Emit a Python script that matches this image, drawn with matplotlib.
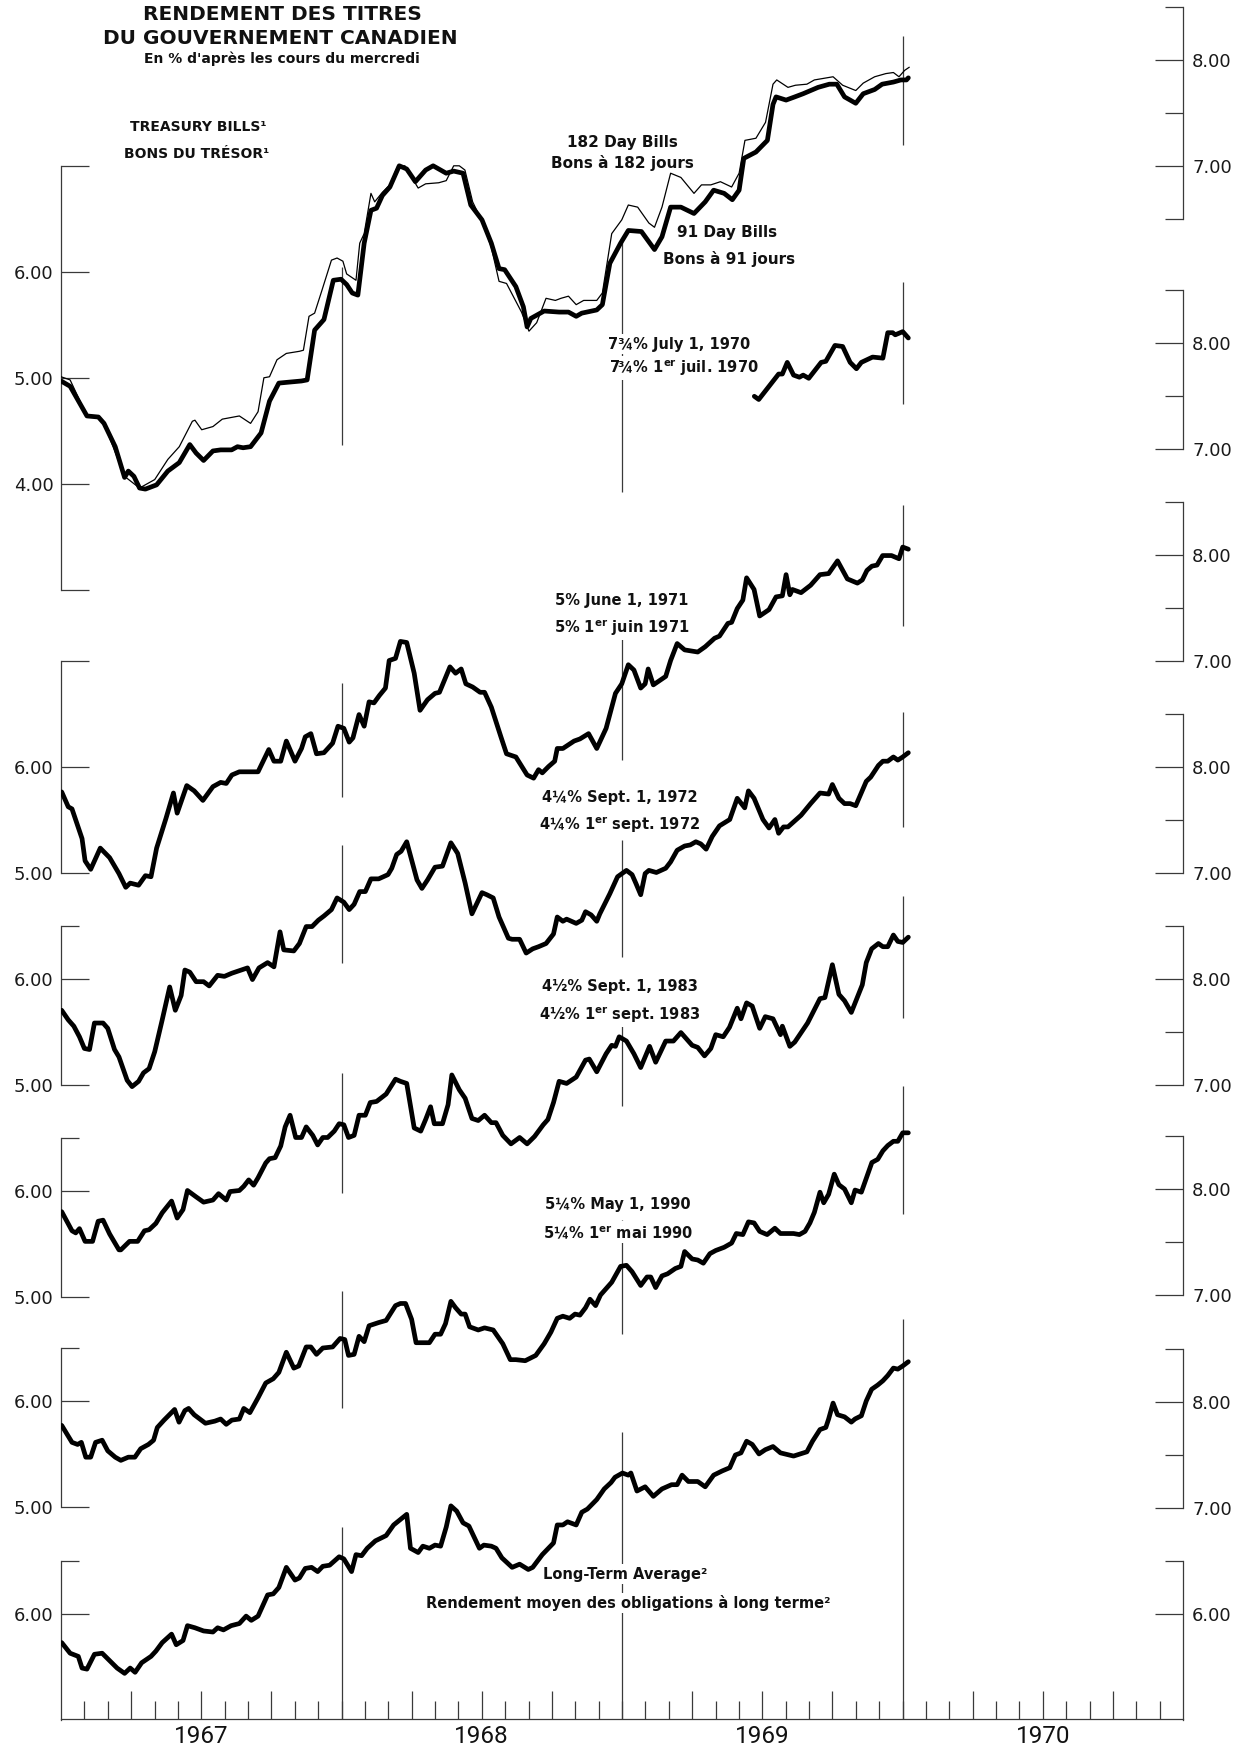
import matplotlib
matplotlib.use("Agg")
import matplotlib.pyplot as plt
from matplotlib.ticker import FixedLocator, FuncFormatter
import numpy as np

plt.rcParams["font.family"] = ["DejaVu Sans"]
plt.rcParams["mathtext.fontset"] = "dejavusans"

# weekly yields: (months since 1 Jan 1967, yield %)
bills_91 = [(0, 4.97), (0.39, 4.92), (1.11, 4.64), (1.6, 4.63), (1.84, 4.57), (2.32, 4.35), (2.72, 4.06),
            (2.88, 4.12), (3.12, 4.07), (3.36, 3.96), (3.61, 3.95), (4.09, 3.99), (4.57, 4.12), (5.06, 4.20),
            (5.51, 4.37), (5.78, 4.29), (6.1, 4.22), (6.5, 4.31), (6.83, 4.32), (7.3, 4.32), (7.55, 4.35),
            (7.79, 4.34), (8.11, 4.35), (8.56, 4.48), (8.92, 4.78), (9.32, 4.95), (9.8, 4.96), (10.29, 4.97),
            (10.53, 4.98), (10.85, 5.45), (11.25, 5.55), (11.65, 5.92), (11.98, 5.93), (12.22, 5.88),
            (12.46, 5.80), (12.7, 5.78), (12.97, 6.27), (13.26, 6.58), (13.5, 6.60), (13.75, 6.72),
            (14.07, 6.80), (14.47, 7.00), (14.79, 6.97), (15.16, 6.85), (15.6, 6.96), (15.92, 7.00),
            (16.24, 6.96), (16.48, 6.93), (16.8, 6.95), (17.2, 6.93), (17.53, 6.63), (18.01, 6.49),
            (18.41, 6.27), (18.74, 6.03), (18.98, 6.02), (19.46, 5.86), (19.78, 5.67), (19.94, 5.48),
            (20.1, 5.56), (20.67, 5.63), (21.31, 5.62), (21.71, 5.62), (22.04, 5.58), (22.28, 5.61),
            (22.92, 5.64), (23.16, 5.69), (23.48, 6.08), (23.94, 6.27), (24.27, 6.39), (24.83, 6.38),
            (25.39, 6.21), (25.71, 6.33), (26.08, 6.61), (26.52, 6.61), (27.08, 6.55), (27.56, 6.66),
            (27.92, 6.77), (28.37, 6.74), (28.72, 6.68), (29.01, 6.77), (29.21, 7.07), (29.73, 7.13),
            (30.22, 7.24), (30.46, 7.58), (30.59, 7.65), (31.02, 7.62), (31.39, 7.65), (31.75, 7.68),
            (32.39, 7.74), (32.87, 7.77), (33.19, 7.77), (33.52, 7.65), (34.0, 7.59), (34.32, 7.68),
            (34.81, 7.72), (35.13, 7.77), (35.61, 7.79), (35.93, 7.81), (36.17, 7.81), (36.25, 7.83)]

bills_182 = [(0, 5.01), (0.39, 4.98), (1.11, 4.64), (1.6, 4.63), (1.84, 4.57), (2.72, 4.07), (3.36, 3.96),
             (4.01, 4.04), (4.57, 4.23), (5.06, 4.35), (5.62, 4.59), (5.73, 4.60), (6.02, 4.51), (6.5, 4.54),
             (6.9, 4.61), (7.63, 4.64), (8.11, 4.57), (8.43, 4.68), (8.68, 5.00), (8.92, 5.01), (9.24, 5.17),
             (9.64, 5.23), (10.2, 5.25), (10.37, 5.26), (10.61, 5.58), (10.85, 5.61), (11.17, 5.83),
             (11.57, 6.11), (11.81, 6.13), (12.06, 6.10), (12.22, 5.98), (12.62, 5.92), (12.78, 6.27),
             (12.97, 6.36), (13.26, 6.74), (13.42, 6.66), (13.75, 6.75), (14.07, 6.82), (14.39, 6.99),
             (14.71, 7.00), (15.28, 6.79), (15.6, 6.83), (16.16, 6.84), (16.48, 6.86), (16.8, 7.00),
             (17.04, 7.00), (17.28, 6.96), (17.61, 6.66), (18.09, 6.44), (18.41, 6.23), (18.74, 5.91),
             (19.06, 5.89), (19.7, 5.62), (20.02, 5.44), (20.35, 5.52), (20.75, 5.75), (21.15, 5.73),
             (21.39, 5.75), (21.71, 5.77), (22.04, 5.69), (22.36, 5.73), (22.92, 5.73), (23.16, 5.80),
             (23.56, 6.36), (23.99, 6.49), (24.27, 6.63), (24.67, 6.61), (25.15, 6.46), (25.39, 6.42),
             (25.71, 6.61), (26.08, 6.93), (26.52, 6.89), (27.08, 6.74), (27.4, 6.82), (27.8, 6.82),
             (28.21, 6.85), (28.69, 6.80), (29.01, 6.93), (29.26, 7.24), (29.73, 7.26), (30.14, 7.41),
             (30.46, 7.77), (30.62, 7.81), (31.1, 7.74), (31.42, 7.76), (31.91, 7.77), (32.23, 7.81),
             (33.03, 7.84), (33.44, 7.76), (34.0, 7.71), (34.32, 7.78), (34.81, 7.84), (35.29, 7.87),
             (35.61, 7.88), (35.85, 7.84), (36.09, 7.90), (36.29, 7.93)]

bond_1970 = [(29.66, 7.50), (29.85, 7.47), (30.7, 7.71), (30.86, 7.71), (31.07, 7.82), (31.34, 7.70),
             (31.59, 7.68), (31.75, 7.70), (31.99, 7.67), (32.52, 7.82), (32.72, 7.83), (33.11, 7.98),
             (33.44, 7.97), (33.76, 7.82), (34.03, 7.76), (34.24, 7.82), (34.72, 7.87), (35.16, 7.86),
             (35.37, 8.10), (35.58, 8.10), (35.69, 8.08), (36.01, 8.11), (36.25, 8.05)]

bond_1971 = [(0.03, 5.76), (0.31, 5.62), (0.47, 5.60), (0.9, 5.32), (1.03, 5.11), (1.27, 5.03), (1.68, 5.23),
             (2.08, 5.14), (2.48, 4.99), (2.77, 4.86), (2.96, 4.90), (3.32, 4.88), (3.61, 4.97), (3.85, 4.96),
             (4.09, 5.23), (4.49, 5.51), (4.81, 5.75), (4.97, 5.56), (5.38, 5.82), (5.7, 5.77), (6.07, 5.68),
             (6.5, 5.81), (6.83, 5.85), (7.07, 5.84), (7.31, 5.92), (7.63, 5.95), (8.43, 5.95), (8.89, 6.16),
             (9.11, 6.05), (9.4, 6.05), (9.64, 6.24), (10.01, 6.05), (10.29, 6.17), (10.45, 6.28),
             (10.69, 6.31), (10.93, 6.12), (11.25, 6.13), (11.62, 6.22), (11.85, 6.38), (12.1, 6.36),
             (12.33, 6.23), (12.49, 6.27), (12.75, 6.49), (12.97, 6.38), (13.18, 6.61), (13.39, 6.60),
             (13.62, 6.67), (13.88, 6.74), (14.04, 7.00), (14.31, 7.02), (14.52, 7.18), (14.79, 7.17),
             (15.11, 6.88), (15.36, 6.53), (15.68, 6.63), (16.0, 6.69), (16.19, 6.70), (16.64, 6.94),
             (16.88, 6.88), (17.12, 6.92), (17.32, 6.78), (17.61, 6.75), (17.93, 6.70), (18.12, 6.70),
             (18.41, 6.56), (18.82, 6.28), (19.06, 6.12), (19.46, 6.09), (19.94, 5.92), (20.22, 5.89),
             (20.43, 5.97), (20.59, 5.94), (20.86, 6.00), (21.12, 6.05), (21.23, 6.17), (21.47, 6.17),
             (21.95, 6.24), (22.2, 6.26), (22.57, 6.31), (22.92, 6.17), (23.32, 6.36), (23.72, 6.69),
             (23.99, 6.78), (24.27, 6.96), (24.51, 6.91), (24.8, 6.74), (24.99, 6.78), (25.12, 6.92),
             (25.34, 6.77), (25.87, 6.85), (26.08, 7.00), (26.36, 7.16), (26.68, 7.10), (27.24, 7.08),
             (27.56, 7.13), (27.96, 7.21), (28.17, 7.23), (28.53, 7.35), (28.69, 7.36), (28.93, 7.49),
             (29.17, 7.57), (29.33, 7.78), (29.65, 7.67), (29.89, 7.42), (30.29, 7.48), (30.59, 7.60),
             (30.86, 7.61), (31.02, 7.81), (31.18, 7.62), (31.29, 7.67), (31.66, 7.64), (32.07, 7.71),
             (32.47, 7.81), (32.84, 7.82), (33.22, 7.94), (33.64, 7.77), (34.07, 7.73), (34.28, 7.76),
             (34.48, 7.85), (34.69, 7.89), (34.91, 7.90), (35.15, 7.99), (35.53, 7.99), (35.85, 7.96),
             (36.01, 8.07), (36.25, 8.05)]

bond_1972 = [(0.03, 5.70), (0.31, 5.61), (0.55, 5.55), (0.79, 5.45), (1.0, 5.34), (1.22, 5.33), (1.43, 5.58),
             (1.8, 5.58), (2.0, 5.53), (2.29, 5.33), (2.48, 5.26), (2.83, 5.04), (3.04, 4.98), (3.32, 5.03),
             (3.53, 5.11), (3.77, 5.15), (4.01, 5.31), (4.33, 5.61), (4.65, 5.92), (4.89, 5.70), (5.14, 5.84),
             (5.3, 6.08), (5.51, 6.06), (5.78, 5.97), (6.1, 5.97), (6.34, 5.93), (6.7, 6.03), (6.99, 6.02),
             (7.31, 6.05), (7.71, 6.08), (7.98, 6.10), (8.19, 5.99), (8.47, 6.10), (8.84, 6.15), (9.11, 6.11),
             (9.37, 6.44), (9.53, 6.27), (9.96, 6.26), (10.2, 6.33), (10.49, 6.49), (10.74, 6.49),
             (11.01, 6.55), (11.25, 6.59), (11.57, 6.65), (11.81, 6.76), (12.1, 6.72), (12.33, 6.65),
             (12.54, 6.70), (12.78, 6.82), (13.02, 6.82), (13.26, 6.94), (13.59, 6.94), (13.99, 6.98),
             (14.15, 7.04), (14.36, 7.17), (14.55, 7.20), (14.79, 7.29), (15.0, 7.12), (15.23, 6.93),
             (15.44, 6.85), (15.68, 6.93), (16.0, 7.05), (16.32, 7.06), (16.68, 7.28), (16.97, 7.18),
             (17.29, 6.90), (17.58, 6.61), (18.01, 6.81), (18.22, 6.79), (18.49, 6.76), (18.74, 6.58),
             (19.14, 6.38), (19.3, 6.37), (19.62, 6.37), (19.9, 6.24), (20.18, 6.28), (20.43, 6.30),
             (20.75, 6.33), (21.07, 6.42), (21.23, 6.58), (21.47, 6.54), (21.63, 6.56), (22.04, 6.52),
             (22.28, 6.55), (22.44, 6.63), (22.68, 6.60), (22.92, 6.54), (23.05, 6.61), (23.48, 6.80),
             (23.81, 6.96), (24.19, 7.02), (24.43, 6.98), (24.59, 6.90), (24.8, 6.79), (24.99, 6.99),
             (25.15, 7.02), (25.47, 7.00), (25.87, 7.04), (26.08, 7.10), (26.36, 7.21), (26.68, 7.25),
             (26.92, 7.26), (27.16, 7.29), (27.37, 7.27), (27.6, 7.22), (27.86, 7.34), (28.17, 7.44),
             (28.61, 7.50), (28.93, 7.70), (29.25, 7.61), (29.41, 7.77), (29.65, 7.70), (30.03, 7.50),
             (30.29, 7.42), (30.54, 7.50), (30.7, 7.37), (30.91, 7.43), (31.1, 7.43), (31.66, 7.54),
             (32.07, 7.65), (32.47, 7.75), (32.84, 7.74), (33.0, 7.83), (33.28, 7.70), (33.52, 7.65),
             (33.76, 7.65), (34.0, 7.63), (34.45, 7.86), (34.64, 7.90), (34.97, 8.01), (35.16, 8.05),
             (35.37, 8.05), (35.61, 8.09), (35.8, 8.06), (36.01, 8.09), (36.25, 8.13)]

bond_1983 = [(0.03, 5.80), (0.47, 5.62), (0.63, 5.60), (0.79, 5.64), (1.03, 5.52), (1.35, 5.52), (1.59, 5.71),
             (1.8, 5.72), (2.08, 5.59), (2.48, 5.44), (2.56, 5.44), (2.93, 5.52), (3.28, 5.52), (3.57, 5.62),
             (3.77, 5.63), (4.06, 5.69), (4.33, 5.79), (4.73, 5.90), (4.97, 5.74), (5.22, 5.82), (5.41, 6.00),
             (5.78, 5.94), (6.1, 5.89), (6.5, 5.91), (6.74, 5.97), (7.07, 5.91), (7.23, 5.99), (7.63, 6.00),
             (7.82, 6.04), (8.03, 6.10), (8.24, 6.05), (8.43, 6.12), (8.76, 6.26), (8.92, 6.30), (9.16, 6.31),
             (9.4, 6.42), (9.59, 6.60), (9.8, 6.71), (10.04, 6.50), (10.29, 6.50), (10.49, 6.60),
             (10.77, 6.52), (10.98, 6.43), (11.2, 6.50), (11.41, 6.50), (11.69, 6.56), (11.9, 6.63),
             (12.1, 6.62), (12.3, 6.50), (12.54, 6.52), (12.75, 6.71), (13.02, 6.71), (13.23, 6.83),
             (13.5, 6.84), (13.91, 6.91), (14.31, 7.05), (14.52, 7.03), (14.79, 7.01), (15.11, 6.59),
             (15.39, 6.56), (15.6, 6.67), (15.81, 6.79), (15.97, 6.63), (16.32, 6.63), (16.56, 6.81),
             (16.72, 7.09), (17.04, 6.95), (17.29, 6.87), (17.58, 6.68), (17.85, 6.66), (18.12, 6.71),
             (18.41, 6.64), (18.61, 6.64), (18.9, 6.52), (19.25, 6.44), (19.62, 6.50), (19.94, 6.44),
             (20.26, 6.51), (20.63, 6.62), (20.83, 6.67), (21.07, 6.83), (21.31, 7.03), (21.63, 7.01),
             (22.04, 7.07), (22.44, 7.23), (22.6, 7.24), (22.92, 7.12), (23.32, 7.29), (23.56, 7.37),
             (23.72, 7.36), (23.88, 7.45), (24.19, 7.41), (24.51, 7.29), (24.8, 7.16), (25.18, 7.36),
             (25.44, 7.21), (25.87, 7.41), (26.2, 7.41), (26.52, 7.49), (27.0, 7.37), (27.24, 7.35),
             (27.53, 7.27), (27.8, 7.34), (28.01, 7.47), (28.33, 7.45), (28.6, 7.54), (28.93, 7.72),
             (29.09, 7.62), (29.33, 7.77), (29.57, 7.74), (29.89, 7.53), (30.13, 7.64), (30.46, 7.62),
             (30.78, 7.47), (30.86, 7.55), (31.18, 7.36), (31.39, 7.40), (31.94, 7.58), (32.47, 7.81),
             (32.68, 7.82), (33.0, 8.13), (33.28, 7.85), (33.52, 7.79), (33.81, 7.68), (34.28, 7.94),
             (34.45, 8.15), (34.68, 8.28), (34.97, 8.33), (35.16, 8.30), (35.37, 8.30), (35.61, 8.41),
             (35.8, 8.35), (36.01, 8.34), (36.25, 8.39)]

bond_1990 = [(0.03, 5.77), (0.47, 5.61), (0.71, 5.59), (0.87, 5.61), (1.06, 5.47), (1.27, 5.47), (1.48, 5.61),
             (1.76, 5.63), (2.0, 5.53), (2.32, 5.47), (2.56, 5.44), (2.88, 5.47), (3.16, 5.47), (3.41, 5.55),
             (3.74, 5.59), (3.96, 5.63), (4.12, 5.75), (4.41, 5.82), (4.86, 5.92), (5.05, 5.80), (5.3, 5.91),
             (5.46, 5.93), (5.7, 5.87), (6.18, 5.79), (6.58, 5.81), (6.83, 5.83), (7.07, 5.78), (7.31, 5.82),
             (7.63, 5.83), (7.82, 5.93), (8.08, 5.89), (8.43, 6.03), (8.76, 6.17), (9.08, 6.21), (9.32, 6.27),
             (9.64, 6.46), (9.96, 6.31), (10.17, 6.33), (10.49, 6.51), (10.69, 6.51), (10.93, 6.44),
             (11.2, 6.50), (11.62, 6.51), (11.94, 6.59), (12.14, 6.58), (12.3, 6.43), (12.54, 6.44),
             (12.75, 6.61), (12.97, 6.56), (13.18, 6.71), (13.59, 6.74), (13.91, 6.76), (14.31, 6.90),
             (14.52, 6.92), (14.74, 6.92), (15.0, 6.77), (15.19, 6.55), (15.76, 6.55), (16.0, 6.63),
             (16.24, 6.63), (16.45, 6.73), (16.68, 6.94), (16.88, 6.88), (17.12, 6.82), (17.29, 6.82),
             (17.48, 6.70), (17.85, 6.67), (18.12, 6.69), (18.49, 6.67), (18.9, 6.54), (19.22, 6.39),
             (19.46, 6.39), (19.86, 6.38), (20.31, 6.43), (20.67, 6.54), (20.96, 6.65), (21.23, 6.78),
             (21.47, 6.80), (21.76, 6.78), (21.99, 6.82), (22.2, 6.81), (22.44, 6.88), (22.63, 6.96),
             (22.87, 6.90), (23.08, 7.00), (23.56, 7.12), (23.94, 7.27), (24.19, 7.28), (24.43, 7.22),
             (24.8, 7.09), (25.07, 7.17), (25.23, 7.17), (25.44, 7.07), (25.71, 7.18), (25.95, 7.20),
             (26.28, 7.25), (26.52, 7.27), (26.68, 7.41), (27.0, 7.34), (27.24, 7.33), (27.48, 7.30),
             (27.76, 7.39), (28.01, 7.42), (28.37, 7.45), (28.69, 7.49), (28.89, 7.58), (29.17, 7.57),
             (29.41, 7.69), (29.65, 7.68), (29.89, 7.60), (30.21, 7.57), (30.54, 7.63), (30.78, 7.58),
             (31.1, 7.58), (31.34, 7.58), (31.59, 7.57), (31.83, 7.60), (32.04, 7.68), (32.23, 7.78),
             (32.47, 7.97), (32.63, 7.87), (32.84, 7.95), (33.08, 8.14), (33.28, 8.04), (33.52, 8.00),
             (33.81, 7.87), (33.97, 7.99), (34.24, 7.97), (34.45, 8.10), (34.69, 8.25), (34.94, 8.28),
             (35.16, 8.36), (35.37, 8.41), (35.61, 8.45), (35.8, 8.45), (36.01, 8.53), (36.25, 8.53)]

long_term = [(0.03, 5.73), (0.39, 5.63), (0.74, 5.60), (0.9, 5.49), (1.11, 5.48), (1.43, 5.62), (1.76, 5.63),
             (2.08, 5.56), (2.4, 5.49), (2.72, 5.44), (2.96, 5.49), (3.17, 5.45), (3.45, 5.54), (3.85, 5.60),
             (4.06, 5.65), (4.33, 5.73), (4.73, 5.81), (4.93, 5.71), (5.22, 5.75), (5.41, 5.89), (5.73, 5.87),
             (6.1, 5.84), (6.5, 5.83), (6.7, 5.87), (6.95, 5.85), (7.28, 5.89), (7.63, 5.91), (7.92, 5.98),
             (8.14, 5.94), (8.43, 5.98), (8.84, 6.18), (9.08, 6.19), (9.32, 6.25), (9.64, 6.44), (10.01, 6.32),
             (10.2, 6.34), (10.45, 6.43), (10.72, 6.44), (10.98, 6.40), (11.2, 6.45), (11.49, 6.46),
             (11.9, 6.54), (12.1, 6.52), (12.43, 6.40), (12.62, 6.56), (12.86, 6.55), (13.1, 6.62),
             (13.45, 6.69), (13.91, 6.74), (14.23, 6.84), (14.79, 6.94), (14.95, 6.62), (15.28, 6.58),
             (15.48, 6.64), (15.76, 6.62), (16.0, 6.65), (16.24, 6.64), (16.48, 6.82), (16.68, 7.02),
             (16.93, 6.97), (17.2, 6.86), (17.45, 6.83), (17.9, 6.62), (18.09, 6.65), (18.41, 6.64),
             (18.61, 6.62), (18.86, 6.53), (19.3, 6.44), (19.62, 6.47), (19.99, 6.42), (20.18, 6.44),
             (20.59, 6.56), (21.07, 6.67), (21.23, 6.84), (21.47, 6.84), (21.67, 6.87), (22.04, 6.84),
             (22.28, 6.96), (22.52, 6.99), (22.92, 7.08), (23.24, 7.18), (23.53, 7.24), (23.7, 7.29),
             (24.02, 7.33), (24.27, 7.31), (24.38, 7.33), (24.64, 7.16), (24.99, 7.20), (25.34, 7.11),
             (25.71, 7.18), (26.12, 7.22), (26.36, 7.22), (26.57, 7.31), (26.84, 7.25), (27.24, 7.25),
             (27.56, 7.20), (27.92, 7.31), (28.29, 7.35), (28.61, 7.38), (28.85, 7.50), (29.09, 7.52),
             (29.33, 7.63), (29.57, 7.60), (29.86, 7.51), (30.13, 7.55), (30.46, 7.58), (30.78, 7.52),
             (31.34, 7.49), (31.91, 7.53), (32.15, 7.63), (32.47, 7.74), (32.72, 7.76), (32.84, 7.84),
             (33.03, 7.99), (33.22, 7.88), (33.52, 7.86), (33.81, 7.81), (33.97, 7.84), (34.24, 7.87),
             (34.45, 8.01), (34.68, 8.12), (34.94, 8.16), (35.16, 8.20), (35.37, 8.25), (35.61, 8.32),
             (35.8, 8.31), (36.01, 8.34), (36.25, 8.38)]

years = ["1967", "1968", "1969", "1970"]
year_mid = [6, 18, 30, 42]
quarter_ticks = [m for m in range(3, 48, 3) if m % 12]
month_ticks = list(range(1, 48))

# ---- layout (pixels of the 1245 x 1750 canvas) ----
W, H = 1245, 1750
X0, X1 = 61, 1183
Y0, Y1 = 0, 1719
UNIT = 106.0
INK = "#3a3a3a"

fig = plt.figure(figsize=(W / 100, H / 100), dpi=100)
RECT = [X0 / W, 1 - Y1 / H, (X1 - X0) / W, (Y1 - Y0) / H]


def style_side(ax, side, bounds, majors, minors, labelled):
    for s in ax.spines:
        ax.spines[s].set_visible(s == side)
    sp = ax.spines[side]
    sp.set_bounds(*bounds)
    sp.set_color(INK)
    sp.set_linewidth(0.9)
    ax.yaxis.set_major_locator(FixedLocator(majors))
    ax.yaxis.set_minor_locator(FixedLocator(minors))
    ax.yaxis.set_major_formatter(FuncFormatter(
        lambda v, p: f"{v:.2f}" if any(abs(v - l) < 1e-6 for l in labelled) else ""))
    ax.tick_params(axis="y", which="both", direction="in", color=INK, width=0.9,
                   labelsize=13, labelcolor="#1a1a1a")
    ax.tick_params(axis="y", which="major", length=20, pad=5.5 if side == "left" else 6.5)
    ax.tick_params(axis="y", which="minor", length=13)


def panel(p6, left=None, rights=()):
    ax = fig.add_axes(RECT)
    ax.patch.set_visible(False)
    ax.set_xlim(0, 48)
    ax.set_ylim(6 - (Y1 - p6) / UNIT, 6 + (p6 - Y0) / UNIT)
    ax.tick_params(axis="x", which="both", bottom=False, labelbottom=False)
    if left:
        style_side(ax, "left", *left)
    else:
        for s in ax.spines:
            ax.spines[s].set_visible(False)
        ax.set_yticks([])
    for spec in rights:
        axr = ax.twinx()
        axr.set_ylim(ax.get_ylim())
        style_side(axr, "right", *spec)
    return ax


def year_lines(ax, segs):
    for t, lo, hi in segs:
        ax.vlines(t, lo, hi, color=INK, lw=0.9, zorder=1)


def draw(ax, pts, lw=3.4):
    t, v = np.array(pts).T
    ax.plot(t, v, color="black", lw=lw, solid_joinstyle="round", solid_capstyle="round", zorder=3)


RIGHT = ((7.0, 8.5), [7, 8], [7.5, 8.5], [7, 8])
LEFT = ((5.0, 6.5), [5, 6], [6.5], [5, 6])

ax_t = panel(271.8, left=((3.0, 7.0), [3, 4, 5, 6, 7], [], [4, 5, 6]),
             rights=[((6.5, 8.5), [7, 8], [6.5, 7.5, 8.5], [7, 8])])
draw(ax_t, bills_182, lw=0.9)
draw(ax_t, bills_91)
year_lines(ax_t, [(12, 4.37, 6.05), (24, 3.92, 6.3), (36, 7.2, 8.22)])

ax_70 = panel(555.3, rights=[RIGHT])
draw(ax_70, bond_1970)
year_lines(ax_70, [(36, 7.43, 8.58)])

ax_71 = panel(766.5, left=((5.0, 7.0), [5, 6, 7], [], [5, 6]), rights=[RIGHT])
draw(ax_71, bond_1971)
year_lines(ax_71, [(12, 5.71, 6.79), (24, 6.06, 7.33), (36, 7.33, 8.47)])

ax_72 = panel(978.5, left=LEFT, rights=[RIGHT])
draw(ax_72, bond_1972)
year_lines(ax_72, [(12, 6.15, 7.26), (24, 6.2, 7.31), (36, 7.43, 8.51)])

ax_83 = panel(1190.5, left=LEFT, rights=[RIGHT])
draw(ax_83, bond_1983)
year_lines(ax_83, [(12, 5.98, 7.11), (24, 6.8, 7.75), (36, 7.63, 8.78)])

ax_90 = panel(1401, left=LEFT, rights=[RIGHT])
draw(ax_90, bond_1990)
year_lines(ax_90, [(12, 5.93, 7.04), (24, 6.63, 7.71), (36, 7.76, 8.97)])

ax_lt = panel(1614, left=LEFT, rights=[RIGHT, ((5.0, 6.5), [5, 6], [6.5], [6])])
draw(ax_lt, long_term)
year_lines(ax_lt, [(12, 5.0, 6.82), (24, 5.0, 7.72), (36, 5.0, 8.78)])

# time axis along the bottom
ax_lt.spines["bottom"].set_visible(True)
ax_lt.spines["bottom"].set_color(INK)
ax_lt.spines["bottom"].set_linewidth(0.9)
ax_lt.xaxis.set_major_locator(FixedLocator(quarter_ticks))
ax_lt.xaxis.set_minor_locator(FixedLocator(month_ticks))
ax_lt.tick_params(axis="x", which="both", bottom=True, labelbottom=False, direction="in",
                  color=INK, width=0.9)
ax_lt.tick_params(axis="x", which="major", length=20)
ax_lt.tick_params(axis="x", which="minor", length=13)
sec = ax_lt.secondary_xaxis("bottom")
sec.set_xticks(year_mid, labels=years, fontsize=17.5, fontfamily=["Roboto", "DejaVu Sans"],
               fontweight="normal", color="#111111")
sec.tick_params(length=0, pad=4)
for s in sec.spines.values():
    s.set_visible(False)


# ---- texts ----
def label(x, y, s, size=10.5, ha="center", box=False, weight="bold"):
    kw = dict(facecolor="white", edgecolor="none", pad=1.5) if box else None
    fig.text(x / W, 1 - y / H, s, ha=ha, va="center", fontsize=size, fontweight=weight,
             color="#111111", bbox=kw)


label(282, 14, "RENDEMENT DES TITRES", size=14.5)
label(280, 38, "DU GOUVERNEMENT CANADIEN", size=14.5)
label(282, 59, "En % d'après les cours du mercredi", size=10)
label(198, 127, "TREASURY BILLS¹", size=10)
label(197, 154, "BONS DU TRÉSOR¹", size=10)

label(622, 143, "182 Day Bills", size=11)
label(622, 163, "Bons à 182 jours", size=11)
label(727, 232, "91 Day Bills", size=11)
label(729, 259, "Bons à 91 jours", size=11)

er = r"1$^{\mathbf{er}}$"
label(679, 344, "7¾% July 1, 1970", box=True)
label(684, 368, f"7¾% {er} juil. 1970", box=True)
label(622, 600, "5% June 1, 1971", box=True)
label(622, 628, f"5% {er} juin 1971", box=True)
label(620, 798, "4¼% Sept. 1, 1972", box=True)
label(620, 825, f"4¼% {er} sept. 1972", box=True)
label(620, 987, "4½% Sept. 1, 1983", box=True)
label(620, 1015, f"4½% {er} sept. 1983", box=True)
label(618, 1205, "5¼% May 1, 1990", box=True)
label(618, 1232, f"5¼% {er} mai 1990", box=True)
label(625, 1574, "Long-Term Average²", box=True)
label(628, 1603, "Rendement moyen des obligations à long terme²", box=True)

fig.savefig("out.png", dpi=100)
